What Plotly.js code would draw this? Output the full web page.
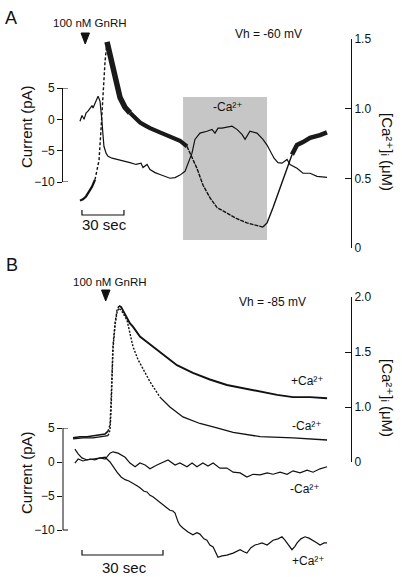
<!DOCTYPE html>
<html>
<head>
<meta charset="utf-8">
<script src="https://cdn.plot.ly/plotly-3.0.1.min.js"></script>
<style>html,body{margin:0;padding:0;background:#fff;}#chart{width:402px;height:577px;}</style>
</head>
<body>
<div id="chart"></div>
<script>
// ---------- Panel A (Vh = -60 mV), time in s from start of record ----------
const curA_t = [0,1.4,2.9,4.3,5.7,7.1,8.6,9.3,10.7,12.1,12.9,14.3,15,15.7,16.4,17.1,18.6,20,22.9,27.1,31.4,35.7,40,43.6,45,47.9,50,53.6,57.1,60.7,64.3,67.9,71.4,75,77.1,80,82.1,85.7,90.7,94.3,96.4,98.6,101.4,105,108.6,112.1,115.7,117.9,121.4,126.4,130.7,133.6,135.7,138.6,141.4,144.3,147.9,150,155,159.3,164.3,169.3,176.4];
const curA_pA = [-0.3,0.6,0,1.0,1.3,1.8,2.2,1.8,2.6,3.3,3.7,2.9,1.6,-0.3,-2.4,-4.3,-5.4,-5.9,-6.2,-6.4,-6.7,-6.9,-7.2,-7.0,-7.7,-7.2,-8.0,-8.5,-8.8,-9.1,-9.4,-9.3,-8.9,-8.3,-7.0,-5.4,-3.2,-2.2,-1.9,-1.6,-2.2,-1.4,-1.4,-1.3,-1.1,-1.6,-2.4,-3.2,-1.9,-2.2,-3.2,-4.1,-5.1,-6.2,-6.9,-7.0,-6.4,-7.2,-7.8,-8.6,-8.6,-9.1,-9.25];
const caA_t = [0,2.1,4.3,6.4,8.6,10.7,12.1,13.6,15,16.4,17.9,19.3,21.4,23.6,25.7,28.6,32.1,35.7,39.3,42.9,46.4,50,57.1,64.3,71.4,76.4,80,83.6,87.9,92.9,97.9,105,112.1,119.3,126.4,130.7,133.6,137.9,142.9,147.9,151.4,155,159.3,164.3,171.4,176.4];
const caA_uM = [0.34,0.35,0.37,0.40,0.44,0.49,0.55,0.63,0.85,1.10,1.34,1.48,1.39,1.26,1.17,1.08,1.01,0.97,0.93,0.90,0.88,0.86,0.83,0.80,0.77,0.73,0.65,0.57,0.45,0.36,0.29,0.25,0.21,0.18,0.16,0.15,0.18,0.29,0.43,0.57,0.67,0.74,0.76,0.79,0.81,0.83];
const caFreeA = [73.6, 133.6];       // Ca-free perfusion window (s)

// ---------- Panel B (Vh = -85 mV) ----------
const caBp_t = [0,2.6,5.2,7.4,10,11.9,13,13.7,14.1,14.4,14.8,15.6,16.3,17,17.8,18.9,20,21.1,22.2,23.7,24.8,27.4,31.1,34.8,38.5,44.4,50.7,57,63,69.3,75.6,81.5,87.8,94.1];
const caBp_uM = [0.72,0.73,0.73,0.74,0.745,0.755,0.78,0.84,1.06,1.34,1.56,1.77,1.88,1.92,1.91,1.86,1.81,1.76,1.73,1.68,1.64,1.59,1.52,1.45,1.38,1.31,1.25,1.20,1.17,1.14,1.11,1.09,1.09,1.08];
const caBm_t = [0,3.7,7.4,11.1,13,13.7,14.1,14.4,14.8,15.6,16.3,17,18.1,20,21.1,22.2,24.1,25.9,28.5,32.2,35.9,40.7,47,53.3,59.3,69.3,81.5,94.1];
const caBm_uM = [0.71,0.72,0.72,0.73,0.74,0.79,0.97,1.25,1.52,1.75,1.86,1.90,1.87,1.79,1.67,1.55,1.43,1.35,1.23,1.09,1.0,0.91,0.85,0.81,0.77,0.73,0.72,0.70];
const curBm_t = [0.7,1.9,3.7,6.3,8.1,10,11.9,13.7,14.8,16.7,19.3,21.1,23,24.8,26.7,28.5,31.1,33.3,35.2,37.8,39.6,42.2,44.1,45.9,48.1,50,51.9,54.4,57,59.3,61.9,64.4,66.7,69.3,71.9,74.1,76.7,79.3,81.5,84.1,86.7,88.9,91.5,94.1];
const curBm_pA = [-0.15,0.44,0.15,0.44,0.3,0.6,0.44,1.3,1.5,1.3,0.7,-0.15,-0.7,-0.15,-0.44,-1.0,-0.44,0,0.3,-0.44,-0.15,-0.7,-0.15,-0.7,-0.15,-0.6,-0.15,-0.9,-0.9,-1.5,-1.6,-2.2,-1.8,-1.9,-1.6,-1.8,-1.5,-1.8,-1.3,-1.6,-1.2,-1.5,-1.0,-0.7];
const curBp_t = [0.7,1.9,3.3,5.2,7.4,10,11.9,13.7,15.2,16.3,17.8,19.3,20.7,22.2,23.7,24.8,26.3,27.4,28.5,29.6,31.1,32.2,33.7,34.8,35.9,37,37.8,38.9,39.6,40.7,42.6,44.4,45.9,47,48.5,49.6,50.7,51.9,53,53.7,55.2,57,59.3,60.7,61.9,63.3,64.4,65.9,67.4,68.5,70,71.9,73,74.1,75.9,77.4,78.5,79.3,81.1,82.2,83,84.4,85.9,87.4,88.9,90.4,91.5,93,94.1];
const curBp_pA = [1.9,1.2,0.6,0.3,0.44,0.6,0.7,0,-0.9,-1.5,-2.2,-2.6,-2.8,-3.1,-3.5,-3.8,-4.3,-4.4,-4.9,-5.1,-5.6,-6.0,-6.5,-6.8,-7.1,-7.2,-7.5,-8.8,-9.3,-9.7,-10.3,-10.7,-10.4,-10.6,-11.3,-11.5,-12.2,-12.5,-13.4,-14.0,-13.8,-13.7,-13.4,-13.1,-12.9,-13.2,-13.4,-12.6,-12.2,-12.1,-11.9,-12.2,-11.8,-11.5,-11.3,-11.0,-11.5,-11.9,-12.9,-12.4,-11.9,-11.3,-11.0,-11.2,-11.5,-11.9,-12.2,-11.9,-11.9];

// tick labels
const curTicks = [-10,-5,0,5];
const caATicks = [0,0.5,1.0,1.5];
const caATickText = ['0','0.5','1.0','1.5'];
const caBTicks = [0.5,1.0,1.5,2.0];
const caBTickText = ['0','1.0','1.5','2.0'];
const scaleBar = 30; // s

// ---------- layout helpers ----------
const W = 402, H = 577;
const px = x => x / W, py = y => 1 - y / H;
const FONT = 'Liberation Sans, Arial, Helvetica, DejaVu Sans, sans-serif';
const K = '#111';

function seg(t, v, i0, i1, xa, ya, line) {
  return {x: t.slice(i0, i1 + 1), y: v.slice(i0, i1 + 1), xaxis: xa, yaxis: ya,
          type: 'scatter', mode: 'lines', line: Object.assign({color: K, shape: 'linear'}, line),
          hoverinfo: 'skip', showlegend: false};
}

const N = a => a.length - 1;
const data = [
  // Panel A current
  seg(curA_t, curA_pA, 0, N(curA_t), 'x', 'y', {width: 1.2}),
  // Panel A calcium
  seg(caA_t, caA_uM, 0, 5, 'x', 'y2', {width: 2.2}),
  seg(caA_t, caA_uM, 5, 11, 'x', 'y2', {width: 1.4, dash: '3px,2px'}),
  seg(caA_t, caA_uM, 11, 17, 'x', 'y2', {width: 5.5, color: '#1a1a1a'}),
  seg(caA_t, caA_uM, 17, 25, 'x', 'y2', {width: 4.2, color: '#1a1a1a'}),
  seg(caA_t, caA_uM, 25, 35, 'x', 'y2', {width: 1.4, dash: '4px,1px'}),
  seg(caA_t, caA_uM, 35, 40, 'x', 'y2', {width: 1.4}),
  seg(caA_t, caA_uM, 40, N(caA_t), 'x', 'y2', {width: 4.5, color: '#1a1a1a'}),
  // Panel B calcium
  seg(caBp_t, caBp_uM, 0, 6, 'x2', 'y4', {width: 1.6}),
  seg(caBp_t, caBp_uM, 6, 13, 'x2', 'y4', {width: 1.4, dash: '2px,2px'}),
  seg(caBp_t, caBp_uM, 13, N(caBp_t), 'x2', 'y4', {width: 1.9}),
  seg(caBm_t, caBm_uM, 0, 4, 'x2', 'y4', {width: 1.3}),
  seg(caBm_t, caBm_uM, 4, 19, 'x2', 'y4', {width: 1.4, dash: '2px,1.5px'}),
  seg(caBm_t, caBm_uM, 19, N(caBm_t), 'x2', 'y4', {width: 1.3}),
  // Panel B currents
  seg(curBm_t, curBm_pA, 0, N(curBm_t), 'x2', 'y3', {width: 1.2}),
  seg(curBp_t, curBp_pA, 0, N(curBp_t), 'x2', 'y3', {width: 1.2})
];

const xA = [-(80 - 63) / 1.4, -(80 - 63) / 1.4 + 288 / 1.4];
const xB = [-(73 - 63) / 2.7, -(73 - 63) / 2.7 + 288 / 2.7];
const yB3 = [(462 - 565) / 6.8, 5];

const axBase = {showgrid: false, zeroline: false, color: K, linecolor: K, tickcolor: K,
                tickfont: {family: FONT, size: 12, color: K}, fixedrange: true};
const layout = {
  width: W, height: H, autosize: false,
  margin: {l: 0, r: 0, t: 0, b: 0, pad: 0},
  paper_bgcolor: '#fff', plot_bgcolor: 'rgba(0,0,0,0)',
  font: {family: FONT, color: K, size: 12},
  showlegend: false, hovermode: false,
  xaxis: {domain: [px(63), px(351)], range: xA, visible: false, anchor: 'y'},
  xaxis2: {domain: [px(63), px(351)], range: xB, visible: false, anchor: 'y3'},
  yaxis: Object.assign({}, axBase, {anchor: 'x', side: 'left', domain: [py(182), py(88)], range: [-10, 5],
          tickmode: 'array', tickvals: curTicks, ticks: 'outside', ticklen: 5, showline: true, linewidth: 1}),
  yaxis2: Object.assign({}, axBase, {anchor: 'x', side: 'right', domain: [py(248), py(39)], range: [0, 1.5],
          tickmode: 'array', tickvals: caATicks, ticktext: caATickText, ticks: 'inside', ticklen: 6, showline: true, linewidth: 1}),
  yaxis3: Object.assign({}, axBase, {anchor: 'x2', side: 'left', domain: [py(565), py(428)], range: yB3,
          tickmode: 'array', tickvals: curTicks, ticks: 'outside', ticklen: 5, showline: false}),
  yaxis4: Object.assign({}, axBase, {anchor: 'x2', side: 'right', domain: [py(462), py(297)], range: [0.5, 2.0],
          tickmode: 'array', tickvals: caBTicks, ticktext: caBTickText, ticks: 'inside', ticklen: 6, showline: true, linewidth: 1}),
  shapes: [
    {type: 'rect', xref: 'x', yref: 'paper', x0: caFreeA[0], x1: caFreeA[1], y0: py(240), y1: py(97),
     fillcolor: '#c6c6c6', line: {width: 0}, layer: 'below'},
    {type: 'line', xref: 'paper', yref: 'y', x0: px(63), x1: px(68), y0: 5, y1: 5, line: {color: K, width: 1}},
    {type: 'line', xref: 'paper', yref: 'y', x0: px(63), x1: px(68), y0: -10, y1: -10, line: {color: K, width: 1}},
    {type: 'line', xref: 'paper', yref: 'y3', x0: px(63), x1: px(63), y0: -10, y1: 5, line: {color: K, width: 1}},
    {type: 'line', xref: 'paper', yref: 'y3', x0: px(63), x1: px(68), y0: 5, y1: 5, line: {color: K, width: 1}},
    {type: 'line', xref: 'paper', yref: 'y3', x0: px(63), x1: px(68), y0: -10, y1: -10, line: {color: K, width: 1}},
    {type: 'path', xref: 'x', yref: 'paper', line: {color: K, width: 1.2},
     path: `M${1.4},${py(210)} L${1.4},${py(215)} L${1.4 + scaleBar},${py(215)} L${1.4 + scaleBar},${py(210)}`},
    {type: 'path', xref: 'x2', yref: 'paper', line: {color: K, width: 1.2},
     path: `M${3.33},${py(550)} L${3.33},${py(555)} L${3.33 + scaleBar},${py(555)} L${3.33 + scaleBar},${py(550)}`},
    {type: 'path', xref: 'paper', yref: 'paper', fillcolor: K, line: {color: K, width: 1},
     path: `M${px(81)},${py(33)} L${px(89.5)},${py(33)} L${px(85.2)},${py(44)} Z`},
    {type: 'path', xref: 'paper', yref: 'paper', fillcolor: K, line: {color: K, width: 1},
     path: `M${px(101.5)},${py(290)} L${px(110)},${py(290)} L${px(105.7)},${py(301)} Z`}
  ],
  annotations: []
};

function note(text, x, y, size, angle) {
  layout.annotations.push({text: text, xref: 'paper', yref: 'paper', x: px(x), y: py(y),
    xanchor: 'center', yanchor: 'middle', showarrow: false, textangle: angle || 0,
    font: {family: FONT, size: size, color: K}});
}
const ca = 'Ca²⁺';
note('A', 11, 18, 18);
note('B', 12, 265, 18);
note('100 nM GnRH', 90, 23, 11.5);
note('100 nM GnRH', 110, 282, 11.5);
note('Vh = -60 mV', 268, 34, 12);
note('Vh = -85 mV', 272, 302, 12);
note('-' + ca, 228, 107, 12);
note('+' + ca, 307, 381, 12);
note('-' + ca, 307, 426, 12);
note('-' + ca, 305, 489, 12);
note('+' + ca, 308, 561, 12);
note('30 sec', 104, 224, 15);
note('30 sec', 124, 567, 15);
note('Current (pA)', 26, 127, 15, -90);
note('Current (pA)', 26, 473, 15, -90);
note('[' + ca + ']ᵢ (μM)', 388, 152, 15, 90);
note('[' + ca + ']ᵢ (μM)', 388, 398, 15, 90);

Plotly.newPlot('chart', data, layout, {staticPlot: true, displayModeBar: false});
</script>
</body>
</html>
